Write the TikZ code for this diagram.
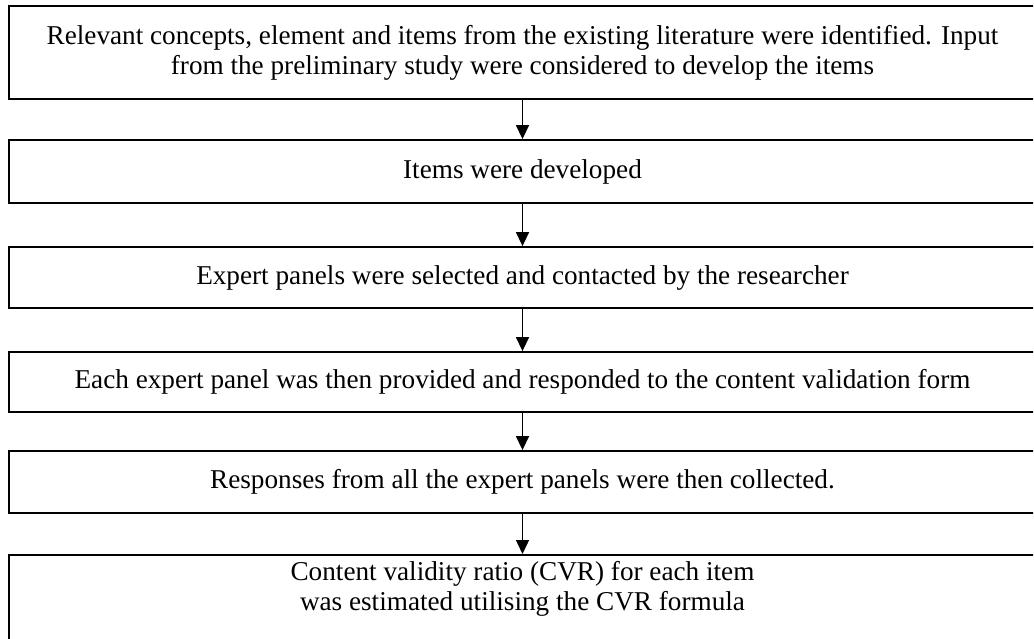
\documentclass[tikz,border=0pt]{standalone}
\usepackage{fontspec}
\setmainfont{Liberation Serif}
\usetikzlibrary{arrows.meta}

\tikzset{
    steptext/.style={align=center,inner sep=0pt,font=\fontsize{13.6}{15}\selectfont},
    stepbox/.style={steptext,draw,line width=0.9pt,minimum width=513.5pt},
    flowarrow/.style={line width=0.7pt,-{Triangle[length=7pt,width=6.5pt]}}
}

\begin{document}
\begin{tikzpicture}[x=0.5pt,y=-0.5pt]
		% page is cut at the reference edges
		\useasboundingbox (0,0) rectangle (1034,638);
		\clip (0,0) rectangle (1033,638);
		\node[stepbox,minimum height=46.5pt] (s1) at (522.5,52.5) {Relevant concepts, element and items from the existing literature were identified. Input\\from the preliminary study were considered to develop the items};
		\node[stepbox,minimum height=31.5pt] (s2) at (522.5,171.5) {Items were developed};
		\node[stepbox,minimum height=30.5pt] (s3) at (522.5,277.5) {Expert panels were selected and contacted by the researcher};
		\node[stepbox,minimum height=30pt] (s4) at (522.5,382) {Each expert panel was then provided and responded to the content validation form};
		\node[stepbox,minimum height=31pt] (s5) at (522.5,482) {Responses from all the expert panels were then collected.};
		\node[stepbox,anchor=north,minimum height=70pt] (s6) at (522.5,554) {};
		\node[steptext] (t6) at (522.5,589) {Content validity ratio (CVR) for each item\\was estimated utilising the CVR formula};
		\draw[flowarrow] (s1)--(s2);
		\draw[flowarrow] (s2)--(s3);
		\draw[flowarrow] (s3)--(s4);
		\draw[flowarrow] (s4)--(s5);
		\draw[flowarrow] (s5)--(s6);
	\end{tikzpicture}
\end{document}
